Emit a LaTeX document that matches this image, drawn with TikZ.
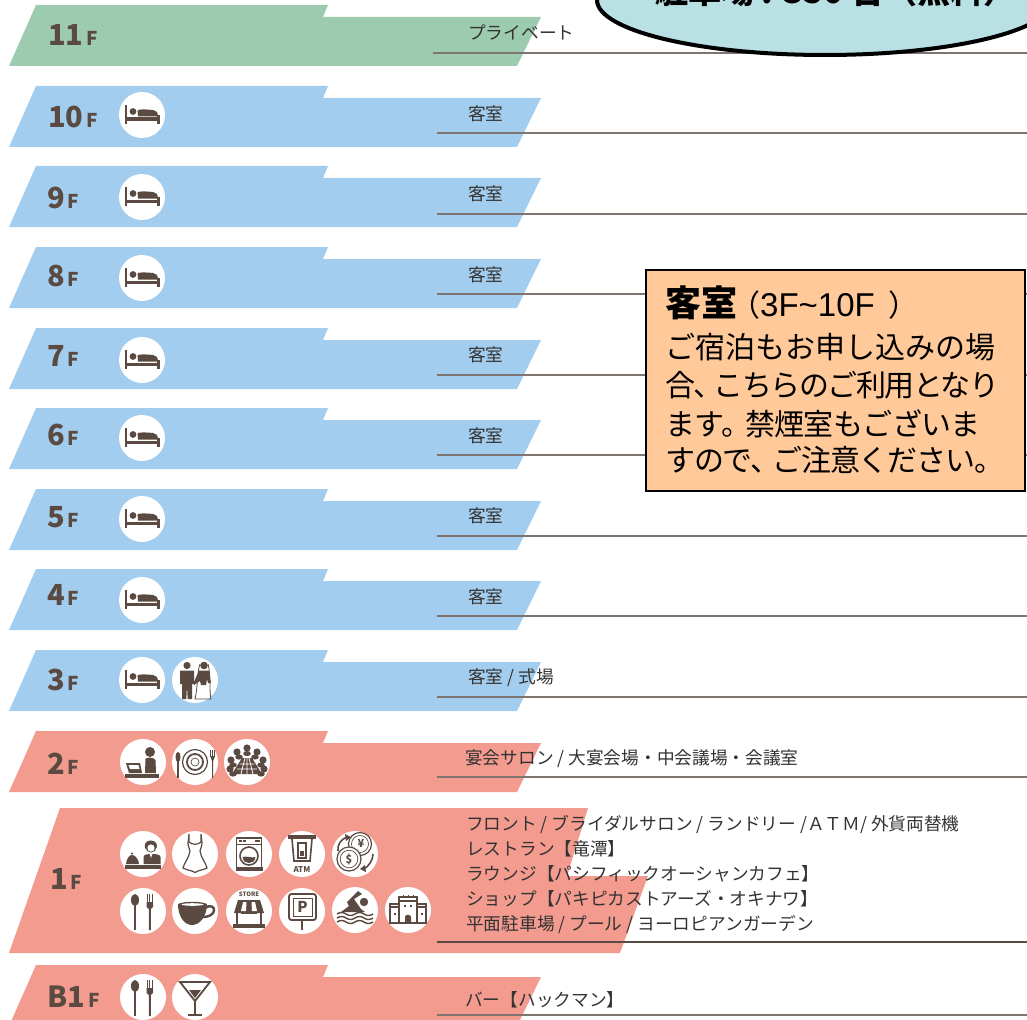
\documentclass[tikz,border=0pt]{standalone}
\usepackage{fontspec}
\setmainfont{Liberation Sans}
\newfontfamily\jpfont{Noto Sans CJK JP}
\definecolor{bandblue}{HTML}{A2CDEE}
\definecolor{bandgreen}{HTML}{9DCBAF}
\definecolor{bandred}{HTML}{F39B8F}
\definecolor{icbrown}{HTML}{5A4A42}
\definecolor{rulegray}{HTML}{7F7570}
\definecolor{txtgray}{HTML}{333333}
\definecolor{calloutfill}{HTML}{FFC999}
\definecolor{ovalfill}{HTML}{B9E0E3}
\tikzset{
  disc/.style={circle,fill=white,minimum size=46,inner sep=0},
  ic/.style={fill=icbrown,draw=none},
  icl/.style={draw=icbrown,line width=1.2,fill=none},
  icw/.style={fill=white,draw=none},
  floorlabel/.style={anchor=base west,inner sep=0,text=icbrown,font=\jpfont\bfseries},
  usage/.style={anchor=west,inner sep=0,text=txtgray,font=\jpfont\fontsize{17.7}{25}\selectfont},
  rulefloor/.style={draw=rulegray,line width=1.2},
  calloutline/.style={anchor=base west,inner sep=0,text=black,font=\jpfont\fontsize{30}{36}\selectfont},
}
\newcommand{\bandshape}[2]{\fill[#1] (36,#2) -- (328,#2) -- (323,#2+12) -- (541,#2+12) -- (517,#2+61) -- (9,#2+61) -- cycle;}
\newcommand{\floorname}[5]{\node[floorlabel] (#1) at (#2,#3+2) {\fontsize{29}{30}\selectfont #4\fontsize{19}{19}\selectfont\kern3pt #5};}
\newcommand{\spot}[4]{\node[disc] (#1) at (#2,#3) {};\begin{scope}[shift={(#1.center)}]#4\end{scope}}
\newcommand{\icBed}{
  \fill[ic] (-17.5,-10) rectangle (-15,9);
  \fill[ic] (-17.5,2.5) rectangle (17.5,6);
  \fill[ic] (15,0) rectangle (18,9);
  \fill[ic] (-9,-3.5) circle (3.4);
  \fill[ic] (-4,1.5) -- (-4.5,-5) .. controls (0,-6) and (6,-5.5) .. (11,-5) .. controls (14,-4.5) and (16,-3) .. (16,1.5) -- cycle;
}
\newcommand{\icCouple}{
  \fill[ic] (-8,-14.5) circle (3.6);
  \fill[ic] (-15,-9.5) -- (-1,-9.5) -- (-1,4) -- (-3,4) -- (-3,19) -- (-7.3,19) -- (-8,6) -- (-8.7,19) -- (-13,19) -- (-13,4) -- (-15,4) -- cycle;
  \fill[ic] (9,-14.5) circle (3.8);
  \draw[icl,line width=.8] (5,-16) .. controls (2,-8) and (3,6) .. (0,19) -- (16,19) .. controls (14,10) and (16,-6) .. (13,-16);
  \fill[ic] (4,-9.5) -- (14,-9.5) -- (16,3) -- (13,3) -- (12,-1) -- (11,5) -- (6,5) -- (5,1) -- (-1,5) -- (-1,2) -- cycle;
}
\newcommand{\icDesk}{
  \fill[ic] (7,-10) circle (5);
  \fill[ic] (2.5,-3) .. controls (3,-5) and (11,-5) .. (12.5,-2) -- (13,11) -- (2,11) -- cycle;
  \fill[ic] (-18,12) rectangle (16,16);
  \fill[ic] (-17,1) -- (-3,1) -- (-1,11) -- (-14,11) -- cycle;
  \fill[icw] (-14.5,3) -- (-4.5,3) -- (-3.5,7) -- (-13,7) -- cycle;
}
\newcommand{\icPlate}{
  \draw[icl] (0,0) circle (12.5);
  \draw[icl,line width=1.8] (0,0) circle (8);
  \draw[icl,line width=.7] (0,0) circle (4);
  \fill[ic] (-17,-5) ellipse (2.5 and 5);
  \fill[ic] (-17.7,-3) rectangle (-16.3,16);
  \fill[ic] (15.2,-12) rectangle (16,-5);
  \fill[ic] (17.2,-12) rectangle (18,-5);
  \fill[ic] (19.2,-12) rectangle (20,-5);
  \fill[ic] (15.2,-6) -- (20,-6) -- (18.2,-1) -- (18.2,16) -- (17,16) -- (17,-1) -- cycle;
}
\newcommand{\icMeeting}{
  \fill[ic] (-5,-4) -- (5,-4) -- (15,12) -- (-15,12) -- cycle;
  \draw[white,line width=.8] (-7.5,2) -- (7.5,2) (-10,7) -- (10,7) (0,-4) -- (0,12) (-2,-4) -- (-6,12) (2,-4) -- (6,12);
  \foreach \px/\py in {0/-14,-10/-10,10/-10,-16/-2,16/-2,-17/7,17/7}{\fill[ic] (\px,\py) circle (3.6);}
  \foreach \px/\py in {0/-8.5,-8/-5,8/-5,-14/3,14/3,-14/12,14/12}{\fill[ic] (\px,\py) ellipse (3.8 and 2.6);}
}
\newcommand{\icFront}{
  \fill[ic] (8,-7) circle (5.5);
  \fill[ic] (8,-13.5) .. controls (1,-13.5) and (1,-7) .. (2.5,-5) .. controls (4,-9) and (11,-10) .. (13.5,-6) .. controls (15,-9) and (13,-13.5) .. (8,-13.5) -- cycle;
  \fill[icw] (8,-6) circle (3.6);
  \fill[ic] (0.5,10) -- (0.5,3) .. controls (1,0) and (5,0) .. (8,0) .. controls (12,0) and (17,0) .. (17.5,3) -- (17.5,10) -- cycle;
  \fill[icw] (6.7,0) -- (9.3,0) -- (8,4) -- cycle;
  \fill[ic] (-18,11) rectangle (18,14.5);
  \fill[ic] (-17,10) .. controls (-16,3) and (-13,1) .. (-11,1) .. controls (-9,1) and (-5,3) .. (-4,10) -- cycle;
  \fill[ic] (-11,-.5) circle (1.2);
}
\newcommand{\icDress}{
  \draw[icl,fill=white] (-6,-20) -- (-6,-12) .. controls (-3,-9) and (3,-9) .. (6,-12) -- (6,-20) -- (7,-11) .. controls (7,-7) and (5,-5) .. (5,-3) .. controls (6,4) and (11,9) .. (12,14) .. controls (8,16) and (5,16) .. (3,17) .. controls (1,19) and (-1,19) .. (-3,17) .. controls (-6,16) and (-9,16) .. (-12,14) .. controls (-11,9) and (-6,4) .. (-5,-3) .. controls (-5,-5) and (-7,-7) .. (-7,-11) -- cycle;
}
\newcommand{\icWasher}{
  \draw[icl,line width=1.6] (-12.5,-16) rectangle (12.5,15);
  \fill[ic] (-13.5,13) rectangle (13.5,17);
  \draw[icl,line width=.8] (-12.5,-10) -- (12.5,-10);
  \fill[ic] (-10,-14) rectangle (-7.5,-12);
  \fill[ic] (-6,-14) rectangle (-3.5,-12);
  \fill[ic] (6,-14) rectangle (11,-12.5);
  \draw[icl,line width=1.6] (0,2) circle (9);
  \fill[ic] (-6.5,3) .. controls (-3,1.5) and (3,4.5) .. (6.5,3) .. controls (6,7.5) and (3,9) .. (0,9) .. controls (-3,9) and (-6,7.5) .. (-6.5,3) -- cycle;
}
\newcommand{\icATM}{
  \fill[ic] (-14,-19) rectangle (14,-15);
  \draw[icl,line width=1.6] (-10,-15) -- (-8,7) -- (8,7) -- (10,-15);
  \fill[ic] (-5,-12) rectangle (5,5);
  \fill[icw] (-3,-10) rectangle (3,3);
  \fill[ic] (-1.8,-3) rectangle (1.8,1.5);
  \node[inner sep=0,text=icbrown] (atmlabel) at (0,15.5) {\jpfont\bfseries\fontsize{8}{8}\selectfont ATM};
}
\newcommand{\icCoins}{
  \draw[icl,fill=white] (5,-10) circle (11.5);
  \draw[icl,line width=.7] (5,-10) circle (8.5);
  \node[inner sep=0,text=icbrown] (yen) at (6,-11) {\jpfont\bfseries\fontsize{11}{11}\selectfont ¥};
  \draw[icl,fill=white] (-6,5) circle (12);
  \draw[icl,line width=.7] (-6,5) circle (8.8);
  \node[inner sep=0,text=icbrown] (dollar) at (-6,5) {\jpfont\bfseries\fontsize{11}{11}\selectfont \$};
  \draw[icl,line width=1.6] (-17,-3) .. controls (-18,-9) and (-14,-15) .. (-8,-17);
  \fill[ic] (-10,-20) -- (-4,-17) -- (-9,-13) -- cycle;
  \draw[icl,line width=1.6] (18,0) .. controls (18,6) and (14,12) .. (9,15);
  \fill[ic] (11,18) -- (5,15) -- (10,11) -- cycle;
}
\newcommand{\icCutlery}{
  \fill[ic] (-8,-11) ellipse (4 and 6);
  \fill[ic] (-9,-8) rectangle (-7,19);
  \foreach \tx in {3.5,6.3,9.1}{\fill[ic] (\tx,-17) rectangle (\tx+1,-7);}
  \fill[ic] (3.5,-9) -- (10.1,-9) -- (10,-4) -- (7.8,-2) -- (7.8,19) -- (5.8,19) -- (5.8,-2) -- (3.6,-4) -- cycle;
}
\newcommand{\icCup}{
  \draw[icl,line width=2.4] (10,-3) .. controls (15,-7) and (20,-4) .. (19,0) .. controls (18,4) and (13,6) .. (8,6);
  \fill[ic] (-17,-7) .. controls (-17,5) and (-11,14) .. (-3,14) .. controls (5,14) and (12,5) .. (12,-7) .. controls (6,-10) and (-11,-10) .. (-17,-7) -- cycle;
  \fill[icw] (-2.5,-6.5) ellipse (11 and 1.3);
}
\newcommand{\icStore}{
  \node[inner sep=0,text=icbrown] (storelabel) at (0,-17) {\jpfont\bfseries\fontsize{6}{6}\selectfont STORE};
  \fill[ic] (-11,-11) -- (11,-11) -- (15,2) -- (-15,2) -- cycle;
  \fill[icw] (-6,-9) -- (-2.5,-9) -- (-3,0) -- (-8,0) -- cycle;
  \fill[icw] (2.5,-9) -- (6,-9) -- (8,0) -- (3,0) -- cycle;
  \draw[icl,line width=1.6] (-12,2) -- (-12,14) (12,2) -- (12,14) (-8,2) -- (8,2);
  \fill[ic] (-16,13) rectangle (16,17);
}
\newcommand{\icParking}{
  \draw[icl,line width=1.8,rounded corners=2.5] (-13,-17) rectangle (14,9);
  \draw[icl,line width=.8] (-9,-13) rectangle (10,5);
  \fill[ic] (-1,9) rectangle (1,19);
  \node[inner sep=0,text=icbrown] (parklabel) at (.5,-4) {\jpfont\bfseries\fontsize{15}{15}\selectfont P};
}
\newcommand{\icSwim}{
  \fill[ic] (9,-8) circle (4.2);
  \fill[ic] (3,-19) -- (7,-16) -- (-1,-11) -- (6,-1) -- (10,2) -- (-14,2) -- (-6,-4) -- (-8,-8) -- cycle;
  \foreach \wy in {4,8,12}{
    \draw[icl,line width=1.4] (-18,\wy) .. controls (-15,\wy-2) and (-12,\wy-2) .. (-9,\wy) .. controls (-6,\wy+2) and (-3,\wy+2) .. (0,\wy) .. controls (3,\wy-2) and (6,\wy-2) .. (9,\wy) .. controls (12,\wy+2) and (15,\wy+2) .. (18,\wy);
  }
}
\newcommand{\icBuilding}{
  \draw[icl,line width=1.1] (-18,-6) rectangle (18,13);
  \draw[icl,line width=1.1,fill=white] (-9,-13) rectangle (9,13);
  \draw[icl,line width=1.1] (-18,-3) -- (-9,-3) (9,-3) -- (18,-3) (-9,-9) -- (9,-9);
  \draw[icl,line width=.8] (-5,-15) -- (-5,-13) (0,-15) -- (0,-13) (5,-15) -- (5,-13);
  \fill[ic] (-3,13) -- (-3,7) .. controls (-3,4) and (3,4) .. (3,7) -- (3,13) -- cycle;
  \fill[ic] (-14.5,3) rectangle (-12.5,5);
  \fill[ic] (12.5,3) rectangle (14.5,5);
  \fill[ic] (-4,-5) rectangle (-2,-3);
  \fill[ic] (2,-5) rectangle (4,-3);
}
\newcommand{\icMartini}{
  \draw[icl,line width=1.8] (-15,-15) -- (15,-15) -- (0,4) -- cycle;
  \fill[ic] (-6,-7) -- (6,-7) -- (0,1) -- cycle;
  \fill[ic] (-1,4) rectangle (1,17);
  \fill[ic] (-7,17) -- (7,17) -- (7,19) -- (-7,19) -- cycle;
}
\begin{document}
\begin{tikzpicture}[x=1pt,y=-1pt]
\useasboundingbox (0,0) rectangle (1027,1019);
\begin{scope}
\clip (0,0) rectangle (1027,1019);
% bands
\bandshape{bandgreen}{5}
\foreach \t in {86,166,247,328,408,489,569,650}{\bandshape{bandblue}{\t}}
\bandshape{bandred}{731}
\fill[bandred] (60,808) -- (588,808) -- (567,876) -- (648,876) -- (620,953) -- (9,953) -- cycle;
\bandshape{bandred}{965}
% rules
\draw[rulefloor] (433,53) -- (1027,53);
\foreach \ry in {133,214,294,375,455,536,616,697,777,1015}{\draw[rulefloor] (437,\ry) -- (1027,\ry);}
\draw[rulefloor,draw=icbrown] (437,942) -- (1027,942);
% floor names
\floorname{n11}{48}{44}{11}{F}
\floorname{n10}{48}{126}{10}{F}
\floorname{n9}{47}{206}{9}{F}
\floorname{n8}{47}{284}{8}{F}
\floorname{n7}{47}{364}{7}{F}
\floorname{n6}{47}{443}{6}{F}
\floorname{n5}{47}{525}{5}{F}
\floorname{n4}{47}{603}{4}{F}
\floorname{n3}{47}{688}{3}{F}
\floorname{n2}{47}{772}{2}{F}
\floorname{n1}{50}{887}{1}{F}
\floorname{nb1}{47}{1005}{B1}{F}
% icons
\spot{s10}{142}{115}{\icBed}
\spot{s9}{142}{197}{\icBed}
\spot{s8}{142}{278}{\icBed}
\spot{s7}{142}{360}{\icBed}
\spot{s6}{142}{438}{\icBed}
\spot{s5}{142}{519}{\icBed}
\spot{s4}{142}{600}{\icBed}
\spot{s3a}{142}{680}{\icBed}
\spot{s3b}{195}{680}{\icCouple}
\spot{s2a}{143}{762}{\icDesk}
\spot{s2b}{195}{762}{\icPlate}
\spot{s2c}{247}{762}{\icMeeting}
\spot{s1a}{143}{854}{\icFront}
\spot{s1b}{195}{854}{\icDress}
\spot{s1c}{249}{854}{\icWasher}
\spot{s1d}{302}{854}{\icATM}
\spot{s1e}{355}{854}{\icCoins}
\spot{s1f}{143}{911}{\icCutlery}
\spot{s1g}{195}{911}{\icCup}
\spot{s1h}{249}{911}{\icStore}
\spot{s1i}{302}{911}{\icParking}
\spot{s1j}{355}{910}{\icSwim}
\spot{s1k}{408}{910}{\icBuilding}
\spot{sb1a}{143}{997}{\icCutlery}
\spot{sb1b}{195}{997}{\icMartini}
% usage labels
\node[usage] (u11) at (468,33) {プライベート};
\node[usage] (u10) at (468,114) {客室};
\node[usage] (u9) at (468,194) {客室};
\node[usage] (u8) at (468,275) {客室};
\node[usage] (u7) at (468,355) {客室};
\node[usage] (u6) at (468,436) {客室};
\node[usage] (u5) at (468,516) {客室};
\node[usage] (u4) at (468,597) {客室};
\node[usage] (u3) at (468,678) {客室 / 式場};
\node[usage] (u2) at (465,759) {宴会サロン / 大宴会場・中会議場・会議室};
\node[usage] (u1a) at (466,824) {フロント / ブライダルサロン / ランドリー /ＡＴＭ/ 外貨両替機};
\node[usage] (u1b) at (466,849) {レストラン【竜潭】};
\node[usage] (u1c) at (466,874) {ラウンジ【パシフィックオーシャンカフェ】};
\node[usage] (u1d) at (466,899) {ショップ【パキピカストアーズ・オキナワ】};
\node[usage] (u1e) at (466,925) {平面駐車場 / プール / ヨーロピアンガーデン};
\node[usage] (ub1) at (465,1000) {バー【ハックマン】};
% parking oval
\draw[fill=ovalfill,draw=black,line width=4] (825,0) ellipse (228 and 55);
\node[anchor=base west,inner sep=0] (parking) at (655,3.5) {\jpfont\bfseries\fontsize{33}{33}\selectfont 駐車場 : 350 台（無料）};
% callout
\node[draw=black,line width=1.6,fill=calloutfill,anchor=north west,minimum width=379,minimum height=221,inner sep=0] (callout) at (645,269) {};
\node[calloutline] (c0) at (665,316) {{\bfseries\fontsize{36}{36}\selectfont 客室}\kern-7pt （{\rmfamily\fontsize{33}{36}\selectfont 3F\textasciitilde 10F}\kern14pt ）};
\node[calloutline] (c1) at (665,358.5) {ご宿泊もお申し込みの場};
\node[calloutline] (c2) at (665,396) {\addfontfeature{LetterSpace=-5}合、\kern-10pt こちらのご利用となり};
\node[calloutline] (c3) at (665,435) {\addfontfeature{LetterSpace=-2}ます。\kern-6pt 禁煙室もございま};
\node[calloutline] (c4) at (665,471) {\addfontfeature{LetterSpace=-4}すので、\kern-8pt ご注意ください。};
\end{scope}
\end{tikzpicture}
\end{document}
